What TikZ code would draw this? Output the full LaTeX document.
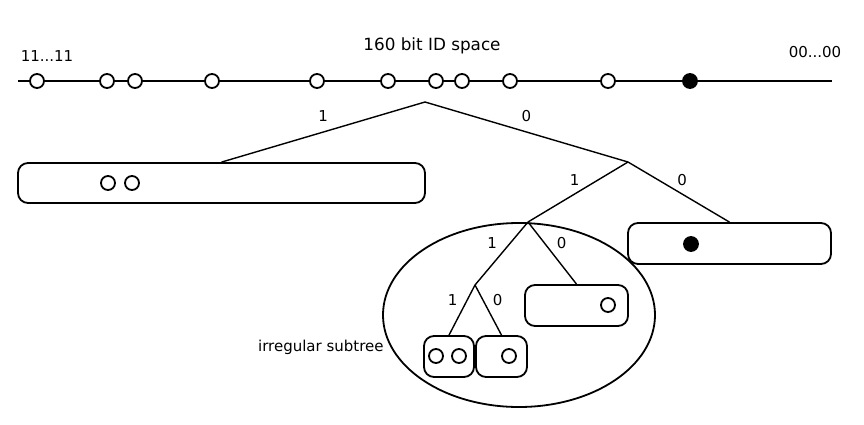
\documentclass[tikz,border=0pt]{standalone}
\usepackage{fontspec}
\setmainfont{DejaVu Sans}
\usetikzlibrary{positioning, shapes.geometric}

\begin{document}
\begin{tikzpicture}[x=0.5pt, y=-0.5pt]
    \tikzset{peer/.style = {draw, circle, fill=white, line width=0.9pt, minimum size=7pt, inner sep=0pt},
             self/.style = {peer, fill=black},
             bucket/.style = {draw, rectangle, rounded corners=5pt, line width=0.9pt, inner sep=0pt},
             branch/.style = {line width=0.7pt},
             bit/.style = {font=\fontsize{7.5}{9}\selectfont, inner sep=2pt},
             caption/.style = {font=\fontsize{7.5}{9}\selectfont, inner sep=0pt}
            }
    \useasboundingbox (0,0) rectangle (864,424);
    % ID space
    \coordinate (idleft) at (18,81);
    \coordinate (idright) at (832,81);
    \draw[line width=0.9pt] (idleft) -- (idright);
    \foreach \x [count=\i] in {37,107,135,212,317,388,436,462,510,608}
        \node (id\i) [peer] at (\x,81) {};
    \node (idself) [self] at (690,81) {};
    \node (ones) [caption] at (47,56) {11...11};
    \node (zeros) [caption] at (815,52) {00...00};
    \node (title) [font=\fontsize{8.4}{10}\selectfont, inner sep=0pt] at (432,46) {160 bit ID space};

    % subtree
    \node (subtree) [draw, ellipse, line width=0.9pt, minimum width=136pt, minimum height=92pt, inner sep=0pt] at (519,315) {};
    \node (irregular) [caption, anchor=east] at (384,347) {irregular subtree};

    % buckets
    \node (b1) [bucket, minimum width=203.5pt, minimum height=20pt] at (221.5,183) {};
    \node (b00) [bucket, minimum width=101.5pt, minimum height=20.5pt] at (729.5,243.5) {};
    \node (b010) [bucket, minimum width=51.5pt, minimum height=20.5pt] at (576.5,305.5) {};
    \node (b0111) [bucket, minimum width=25pt, minimum height=20.5pt] at (449,356.5) {};
    \node (b0110) [bucket, minimum width=25.5pt, minimum height=20.5pt] at (501.5,356.5) {};

    % contacts in buckets
    \node (c1a) [peer] at (108,183) {};
    \node (c1b) [peer] at (132,183) {};
    \node (c00) [self] at (691,244) {};
    \node (c010) [peer] at (608,305) {};
    \node (c0111a) [peer] at (436,356) {};
    \node (c0111b) [peer] at (459,356) {};
    \node (c0110) [peer] at (509,356) {};

    % tree
    \coordinate (root) at (425,102);
    \coordinate (p0) at (628,162);
    \coordinate (p01) at (528,222);
    \coordinate (p011) at (475,285);
    \draw[branch] (root) -- node[bit, midway, above=3pt] {1} (b1.north);
    \draw[branch] (root) -- node[bit, midway, above=3pt] {0} (p0);
    \draw[branch] (p0) -- node[bit, midway, above left=1pt and -3pt] {1} (p01);
    \draw[branch] (p0) -- node[bit, midway, above right=1pt and -3pt] {0} (b00.north);
    \draw[branch] (p01) -- node[bit, midway, above left] {1} (p011);
    \draw[branch] (p01) -- node[bit, midway, above right] {0} (b010.north);
    \draw[branch] (p011) -- node[bit, midway, above left] {1} (b0111.north);
    \draw[branch] (p011) -- node[bit, midway, above right] {0} (b0110.north);
\end{tikzpicture}
\end{document}
